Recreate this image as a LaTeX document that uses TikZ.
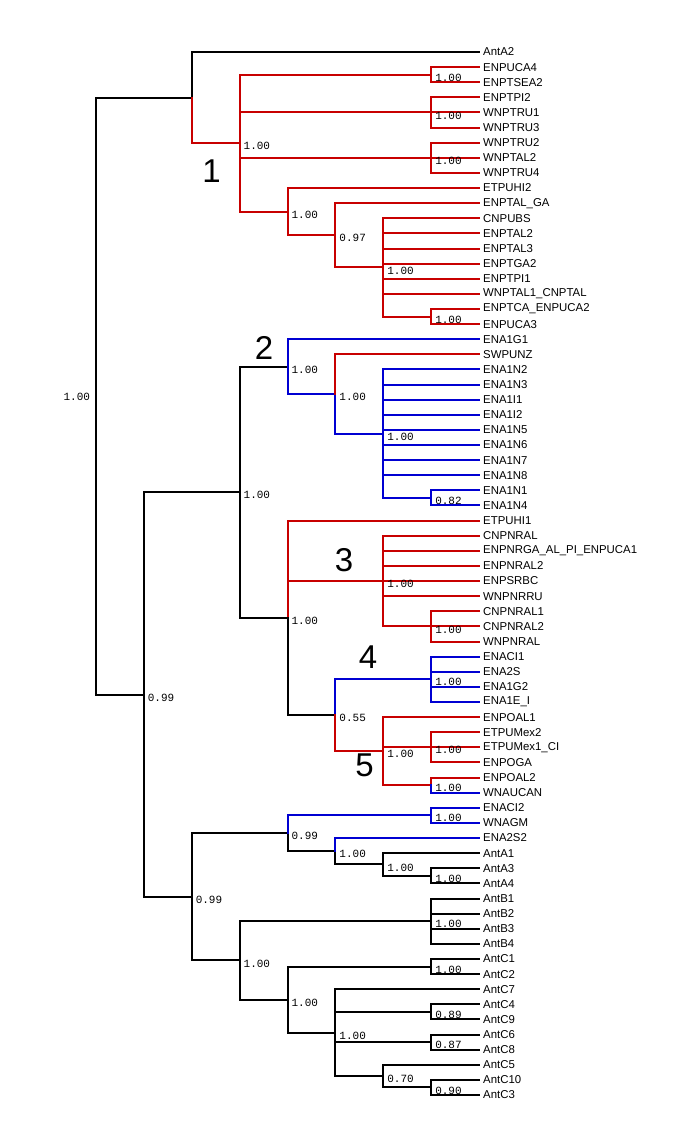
\documentclass[tikz,border=0pt]{standalone}
\usepackage{fontspec}
\setmainfont{Liberation Sans}
\newfontfamily\suppfont{Liberation Mono}
\definecolor{cladered}{RGB}{200,0,0}
\definecolor{cladeblue}{RGB}{0,0,210}

\begin{document}
\begin{tikzpicture}[x=47.9pt,y=-15.116pt,line width=2pt,line cap=rect,
    leaf/.style={anchor=west,inner xsep=3pt,inner ysep=1pt,font=\fontsize{11.4}{13}\selectfont},
    supp/.style={anchor=west,inner sep=0pt,font=\suppfont\fontsize{11}{12}\selectfont},
    cladeno/.style={inner sep=0pt,font=\fontsize{33}{36}\selectfont},
    redbr/.style={color=cladered},
    bluebr/.style={color=cladeblue}]
    \useasboundingbox (-2.004,-3.440) rectangle (12.484,72.109);
    \foreach \lab [count=\i from 0] in {AntA2,ENPUCA4,ENPTSEA2,ENPTPI2,WNPTRU1,WNPTRU3,WNPTRU2,WNPTAL2,WNPTRU4,ETPUHI2,
        ENPTAL\_GA,CNPUBS,ENPTAL2,ENPTAL3,ENPTGA2,ENPTPI1,WNPTAL1\_CNPTAL,ENPTCA\_ENPUCA2,ENPUCA3,ENA1G1,
        SWPUNZ,ENA1N2,ENA1N3,ENA1I1,ENA1I2,ENA1N5,ENA1N6,ENA1N7,ENA1N8,ENA1N1,
        ENA1N4,ETPUHI1,CNPNRAL,ENPNRGA\_AL\_PI\_ENPUCA1,ENPNRAL2,ENPSRBC,WNPNRRU,CNPNRAL1,CNPNRAL2,WNPNRAL,
        ENACI1,ENA2S,ENA1G2,ENA1E\_I,ENPOAL1,ETPUMex2,ETPUMex1\_CI,ENPOGA,ENPOAL2,WNAUCAN,
        ENACI2,WNAGM,ENA2S2,AntA1,AntA3,AntA4,AntB1,AntB2,AntB3,AntB4,
        AntC1,AntC2,AntC7,AntC4,AntC9,AntC6,AntC8,AntC5,AntC10,AntC3}
        \node[leaf] (l\i) at (8,\i) {\lab};
    \coordinate (root) at (0,22.762);
    \coordinate (nTop) at (2,3.016);
    \coordinate (c1) at (3,6.031);
    \coordinate (c1a) at (7,1.5);
    \coordinate (c1b) at (7,4);
    \coordinate (c1c) at (7,7);
    \coordinate (c1d) at (4,10.563);
    \coordinate (c1e) at (5,12.125);
    \coordinate (c1f) at (6,14.25);
    \coordinate (c1g) at (7,17.5);
    \coordinate (nB) at (1,42.508);
    \coordinate (nC) at (3,29.125);
    \coordinate (c2) at (4,20.813);
    \coordinate (c2a) at (5,22.625);
    \coordinate (c2b) at (6,25.25);
    \coordinate (c2c) at (7,29.5);
    \coordinate (nE) at (4,37.438);
    \coordinate (c3) at (6,35);
    \coordinate (c3a) at (7,38);
    \coordinate (nJ) at (5,43.875);
    \coordinate (c4) at (7,41.5);
    \coordinate (c5) at (6,46.25);
    \coordinate (c5a) at (7,46);
    \coordinate (c5b) at (7,48.5);
    \coordinate (nD) at (2,55.891);
    \coordinate (antA) at (4,51.688);
    \coordinate (antAa) at (7,50.5);
    \coordinate (antAb) at (5,52.875);
    \coordinate (antAc) at (6,53.75);
    \coordinate (antAd) at (7,54.5);
    \coordinate (antBC) at (3,60.094);
    \coordinate (antB) at (7,57.5);
    \coordinate (antC) at (4,62.688);
    \coordinate (antCa) at (7,60.5);
    \coordinate (antCb) at (5,64.875);
    \coordinate (antCc) at (7,63.5);
    \coordinate (antCd) at (7,65.5);
    \coordinate (antCe) at (6,67.75);
    \coordinate (antCf) at (7,68.5);
    \draw (root) |- (nTop) (root) |- (nB) (nTop) |- (l0.west);
    \draw[redbr] (nTop) |- (c1) (c1) |- (c1a) (c1) |- (c1b) (c1) |- (c1c) (c1) |- (c1d);
    \foreach \i in {1,2} \draw[redbr] (c1a) |- (l\i.west);
    \foreach \i in {3,4,5} \draw[redbr] (c1b) |- (l\i.west);
    \foreach \i in {6,7,8} \draw[redbr] (c1c) |- (l\i.west);
    \draw[redbr] (c1d) |- (l9.west) (c1d) |- (c1e) (c1e) |- (l10.west) (c1e) |- (c1f) (c1f) |- (c1g);
    \foreach \i in {11,...,16} \draw[redbr] (c1f) |- (l\i.west);
    \foreach \i in {17,18} \draw[redbr] (c1g) |- (l\i.west);
    \draw (nB) |- (nC) (nB) |- (nD) (nC) |- (c2) (nC) |- (nE);
    \draw[bluebr] (c2) |- (l19.west) (c2) |- (c2a) (c2a) |- (c2b) (c2b) |- (c2c);
    \draw[redbr] (c2a) |- (l20.west);
    \foreach \i in {21,...,28} \draw[bluebr] (c2b) |- (l\i.west);
    \foreach \i in {29,30} \draw[bluebr] (c2c) |- (l\i.west);
    \draw[redbr] (nE) |- (l31.west) (nE) |- (c3) (c3) |- (c3a);
    \draw (nE) |- (nJ);
    \foreach \i in {32,...,36} \draw[redbr] (c3) |- (l\i.west);
    \foreach \i in {37,38,39} \draw[redbr] (c3a) |- (l\i.west);
    \draw[bluebr] (nJ) |- (c4);
    \foreach \i in {40,...,43} \draw[bluebr] (c4) |- (l\i.west);
    \draw[redbr] (nJ) |- (c5) (c5) |- (l44.west) (c5) |- (c5a) (c5) |- (c5b) (c5b) |- (l48.west);
    \foreach \i in {45,46,47} \draw[redbr] (c5a) |- (l\i.west);
    \draw[bluebr] (c5b) |- (l49.west);
    \draw (nD) |- (antA) (nD) |- (antBC) (antA) |- (antAb) (antAb) |- (antAc) (antAc) |- (l53.west) (antAc) |- (antAd);
    \draw[bluebr] (antA) |- (antAa) (antAa) |- (l50.west) (antAa) |- (l51.west) (antAb) |- (l52.west);
    \draw (antAd) |- (l54.west) (antAd) |- (l55.west);
    \draw (antBC) |- (antB) (antBC) |- (antC) (antC) |- (antCa) (antC) |- (antCb);
    \foreach \i in {56,...,59} \draw (antB) |- (l\i.west);
    \draw (antCa) |- (l60.west) (antCa) |- (l61.west) (antCb) |- (l62.west) (antCb) |- (antCc) (antCb) |- (antCd) (antCb) |- (antCe);
    \draw (antCc) |- (l63.west) (antCc) |- (l64.west) (antCd) |- (l65.west) (antCd) |- (l66.west);
    \draw (antCe) |- (l67.west) (antCe) |- (antCf) (antCf) |- (l68.west) (antCf) |- (l69.west);
    \foreach \n/\v in {c1/1.00,c1a/1.00,c1b/1.00,c1c/1.00,c1d/1.00,c1e/0.97,c1f/1.00,c1g/1.00,
        nB/0.99,nC/1.00,c2/1.00,c2a/1.00,c2b/1.00,c2c/0.82,nE/1.00,c3/1.00,c3a/1.00,
        nJ/0.55,c4/1.00,c5/1.00,c5a/1.00,c5b/1.00,nD/0.99,antA/0.99,antAa/1.00,antAb/1.00,antAc/1.00,antAd/1.00,
        antBC/1.00,antB/1.00,antC/1.00,antCa/1.00,antCb/1.00,antCc/0.89,antCd/0.87,antCe/0.70,antCf/0.90}
        \node[supp] (s\n) at ([shift={(3pt,-3pt)}]\n) {\v};
    \node[supp,anchor=east] (sroot) at ([shift={(-5pt,-1pt)}]root) {1.00};
    \node[cladeno] (k1) at (2.41,7.905) {1};
    \node[cladeno] (k2) at (3.507,19.55) {2};
    \node[cladeno] (k3) at (5.177,33.61) {3};
    \node[cladeno] (k4) at (5.678,40.02) {4};
    \node[cladeno] (k5) at (5.605,47.17) {5};
\end{tikzpicture}
\end{document}
